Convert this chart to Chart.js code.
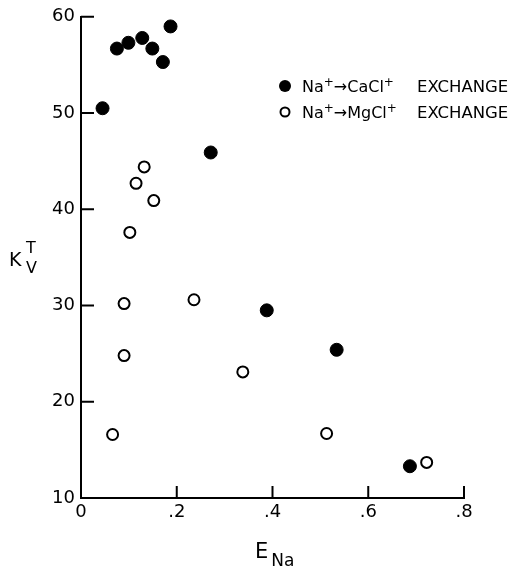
<!DOCTYPE html>
<html>
<head>
<meta charset="utf-8">
<script src="https://cdn.jsdelivr.net/npm/chart.js@4"></script>
<style>
  html, body { margin: 0; padding: 0; background: #fff; }
  #wrap { width: 511px; height: 568px; }
</style>
</head>
<body>
<div id="wrap"><canvas id="chart" width="511" height="568"></canvas></div>
<script>
// Na+ -> CaCl+ exchange (filled)
const caX = [0.045, 0.075, 0.099, 0.128, 0.149, 0.171, 0.187, 0.271, 0.388, 0.534, 0.687];
const caY = [50.5, 56.7, 57.3, 57.8, 56.7, 55.3, 59.0, 45.9, 29.5, 25.4, 13.3];
// Na+ -> MgCl+ exchange (open)
const mgX = [0.066, 0.090, 0.090, 0.102, 0.115, 0.132, 0.152, 0.236, 0.338, 0.513, 0.722];
const mgY = [16.6, 24.8, 30.2, 37.6, 42.7, 44.4, 40.9, 30.6, 23.1, 16.7, 13.7];

const xTicks = [0, 0.2, 0.4, 0.6, 0.8];
const yTicks = [10, 20, 30, 40, 50, 60];
const legendLabels = ['CaCl', 'MgCl'];

const FONT = '"DejaVu Sans", sans-serif';

function toPoints(xs, ys) {
    return xs.map((x, i) => ({ x: x, y: ys[i] }));
}

// ticks point into the plot, like the original
const innerTicks = {
    id: 'innerTicks',
    afterDraw(chart) {
        const ctx = chart.ctx;
        const xs = chart.scales.x, ys = chart.scales.y;
        ctx.save();
        ctx.strokeStyle = '#000';
        ctx.lineWidth = 2;
        ctx.beginPath();
        xTicks.forEach(v => {
            if (v === xs.min) return;
            const px = xs.getPixelForValue(v);
            ctx.moveTo(px, ys.bottom);
            ctx.lineTo(px, ys.bottom - 12);
        });
        yTicks.forEach(v => {
            if (v === ys.min) return;
            const py = ys.getPixelForValue(v);
            ctx.moveTo(xs.left, py);
            ctx.lineTo(xs.left + 13, py);
        });
        ctx.stroke();
        ctx.restore();
    }
};

// draws a run of text pieces, some raised or lowered
function drawPieces(ctx, x, y, pieces) {
    pieces.forEach(p => {
        ctx.font = p.size + 'px ' + FONT;
        ctx.fillText(p.t, x, y + (p.dy || 0));
        x += ctx.measureText(p.t).width + (p.gap || 0);
    });
    return x;
}

const labelsPlugin = {
    id: 'labelsPlugin',
    afterDraw(chart) {
        const ctx = chart.ctx;
        ctx.save();
        ctx.fillStyle = '#000';
        ctx.strokeStyle = '#000';
        ctx.textBaseline = 'alphabetic';
        ctx.textAlign = 'left';

        // y title K_V^T
        drawPieces(ctx, 9, 266, [{ t: 'K', size: 19 }]);
        ctx.font = '16px ' + FONT;
        ctx.fillText('T', 26, 253);
        ctx.fillText('V', 26, 273);

        // x title E_Na
        drawPieces(ctx, 255, 558, [{ t: 'E', size: 21, gap: 3 }, { t: 'Na', size: 17, dy: 8 }]);

        // legend
        const rows = [{ y: 86, filled: true, name: legendLabels[0] }, { y: 112, filled: false, name: legendLabels[1] }];
        rows.forEach(r => {
            ctx.beginPath();
            ctx.lineWidth = 2;
            if (r.filled) {
                ctx.arc(285, r.y, 6, 0, Math.PI * 2);
                ctx.fill();
            } else {
                ctx.arc(285, r.y, 4.5, 0, Math.PI * 2);
                ctx.stroke();
            }
            const base = r.y + 6;
            drawPieces(ctx, 302, base, [
                { t: 'Na', size: 16 },
                { t: '+', size: 12, dy: -6 },
                { t: '\u2192', size: 16 },
                { t: r.name, size: 16 },
                { t: '+', size: 12, dy: -6 }
            ]);
            drawPieces(ctx, 417, base, [{ t: 'EXCHANGE', size: 16.5 }]);
        });
        ctx.restore();
    }
};

new Chart(document.getElementById('chart'), {
    type: 'scatter',
    data: {
        datasets: [
            {
                label: 'Na+ -> CaCl+ EXCHANGE',
                data: toPoints(caX, caY),
                backgroundColor: '#000',
                borderColor: '#000',
                borderWidth: 1,
                pointRadius: 6.5
            },
            {
                label: 'Na+ -> MgCl+ EXCHANGE',
                data: toPoints(mgX, mgY),
                backgroundColor: '#fff',
                borderColor: '#000',
                borderWidth: 2,
                pointRadius: 5.5
            }
        ]
    },
    options: {
        responsive: false,
        animation: false,
        layout: { padding: { top: 13, right: 47, left: 0, bottom: 0 } },
        plugins: {
            legend: { display: false },
            tooltip: { enabled: false }
        },
        scales: {
            x: {
                type: 'linear',
                min: 0,
                max: 0.8,
                afterBuildTicks: s => { s.ticks = xTicks.map(v => ({ value: v })); },
                afterFit: s => { s.height = 70; },
                ticks: {
                    color: '#000',
                    font: { family: FONT, size: 18 },
                    padding: 4,
                    callback: v => v === 0 ? '0' : String(v.toFixed(1)).replace(/^0/, '')
                },
                grid: { display: false, drawTicks: false },
                border: { display: true, color: '#000', width: 2 }
            },
            y: {
                type: 'linear',
                min: 10,
                max: 60,
                afterBuildTicks: s => { s.ticks = yTicks.map(v => ({ value: v })); },
                afterFit: s => { s.width = 81; },
                ticks: {
                    color: '#000',
                    font: { family: FONT, size: 18 },
                    padding: 6
                },
                grid: { display: false, drawTicks: false },
                border: { display: true, color: '#000', width: 2 }
            }
        }
    },
    plugins: [innerTicks, labelsPlugin]
});
</script>
</body>
</html>
